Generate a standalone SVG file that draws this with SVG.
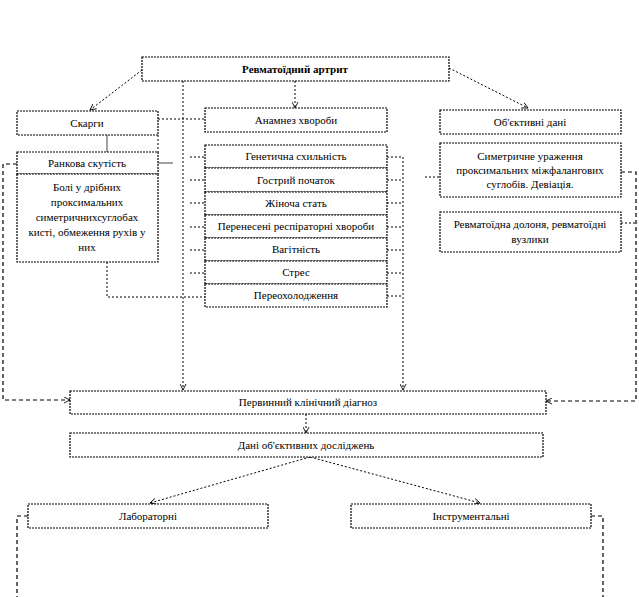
<svg xmlns="http://www.w3.org/2000/svg" width="639" height="597" viewBox="0 0 639 597">
<style>
.box{fill:#fff;stroke:#000;stroke-width:1.2;stroke-dasharray:2 1}
.t{font-size:11px;fill:#000;text-anchor:middle}
.b{font-weight:bold}
.c{fill:none;stroke:#000;stroke-width:1;stroke-dasharray:2 2}
.d{fill:none;stroke:#000;stroke-width:1.2;stroke-dasharray:4 3}
.s{fill:none;stroke:#444;stroke-width:1}
</style>
<defs>
<marker id="ar" viewBox="0 0 8 8" refX="7" refY="4" markerWidth="7" markerHeight="7" orient="auto" markerUnits="userSpaceOnUse">
<path d="M0,0.5 L7,4 L0,7.5" fill="none" stroke="#000" stroke-width="1"/>
</marker>
</defs>
<rect width="639" height="597" fill="#fff"/>
<g id="connectors">
<path class="c" d="M142,70 L90,110" marker-end="url(#ar)"/>
<path class="c" d="M295,81 L295,108" marker-end="url(#ar)"/>
<path class="c" d="M449,68 L528,108" marker-end="url(#ar)"/>
<path class="c" d="M183,81 L183,390" marker-end="url(#ar)"/>
<path class="c" d="M158,119 L205,119"/>
<path class="c" d="M158,135 L158,152"/>
<path class="s" d="M158,120 L107,120 L107,262"/>
<path class="c" d="M107,262 L107,297 L205,297"/>
<path class="s" d="M158,163 L173,163"/>
<path class="d" d="M17,164 L3,164 L3,400 L70,400" marker-end="url(#ar)"/>
<path class="d" d="M621,172 L636,172 L636,401 L546,401" marker-end="url(#ar)"/>
<path class="c" d="M621,223 L636,223"/>
<path class="c" d="M425,177 L440,177"/>
<path class="c" d="M190,157 L205,157 M190,180 L205,180 M190,203 L205,203 M190,227 L205,227 M190,250 L205,250 M190,273 L205,273"/>
<path class="c" d="M387,157 L403,157 M387,180 L403,180 M387,203 L403,203 M387,227 L403,227 M387,250 L403,250 M387,273 L403,273 M387,296 L403,296"/>
<path class="c" d="M403,157 L403,390" marker-end="url(#ar)"/>
<path class="c" d="M306,414 L306,433" marker-end="url(#ar)"/>
<path class="c" d="M310,457 L150,503" marker-end="url(#ar)"/>
<path class="c" d="M310,457 L480,503" marker-end="url(#ar)"/>
<path class="d" d="M28,516 L17,516 L17,597"/>
<path class="d" d="M591,516 L603,516 L603,597"/>
</g>
<g font-family="Liberation Serif, DejaVu Serif, serif">
<g id="n-ra"><rect class="box" x="142" y="57" width="307" height="24"/><text class="t b" x="295" y="73">Ревматоїдний артрит</text></g>
<g id="n-skargy"><rect class="box" x="17" y="111" width="141" height="24"/><text class="t" x="87" y="127">Скарги</text></g>
<g id="n-anamnez"><rect class="box" x="205" y="108" width="182" height="24"/><text class="t" x="296" y="124">Анамнез хвороби</text></g>
<g id="n-obj"><rect class="box" x="440" y="110" width="181" height="24"/><text class="t" x="530" y="126">Об'єктивні дані</text></g>
<g id="n-ranok"><rect class="box" x="17" y="152" width="141" height="22"/><text class="t" x="87" y="167">Ранкова скутість</text></g>
<g id="n-boli"><rect class="box" x="17" y="174" width="141" height="88"/>
<text class="t" x="87" y="191">Болі у дрібних</text>
<text class="t" x="87" y="206">проксимальних</text>
<text class="t" x="87" y="221">симетричнихсуглобах</text>
<text class="t" x="87" y="236">кисті, обмеження рухів у</text>
<text class="t" x="87" y="251">них</text></g>
<g id="n-gen"><rect class="box" x="205" y="145" width="182" height="23"/><text class="t" x="296" y="160">Генетична схильність</text></g>
<g id="n-gostr"><rect class="box" x="205" y="168" width="182" height="24"/><text class="t" x="296" y="184">Гострий початок</text></g>
<g id="n-zhin"><rect class="box" x="205" y="192" width="182" height="23"/><text class="t" x="296" y="207">Жіноча стать</text></g>
<g id="n-resp"><rect class="box" x="205" y="215" width="182" height="23"/><text class="t" x="296" y="230">Перенесені респіраторні хвороби</text></g>
<g id="n-vag"><rect class="box" x="205" y="238" width="182" height="23"/><text class="t" x="296" y="253">Вагітність</text></g>
<g id="n-stres"><rect class="box" x="205" y="261" width="182" height="23"/><text class="t" x="296" y="276">Стрес</text></g>
<g id="n-pereoh"><rect class="box" x="205" y="284" width="182" height="23"/><text class="t" x="296" y="299">Переохолодження</text></g>
<g id="n-sym"><rect class="box" x="440" y="143" width="181" height="54"/>
<text class="t" x="530" y="160">Симетричне ураження</text>
<text class="t" x="530" y="174">проксимальних міжфалангових</text>
<text class="t" x="530" y="188">суглобів. Девіація.</text></g>
<g id="n-dolon"><rect class="box" x="440" y="212" width="181" height="40"/>
<text class="t" x="530" y="228">Ревматоїдна долоня, ревматоїдні</text>
<text class="t" x="530" y="243">вузлики</text></g>
<g id="n-pervyn"><rect class="box" x="70" y="391" width="476" height="23"/><text class="t" x="308" y="406">Первинний клінічний діагноз</text></g>
<g id="n-dani"><rect class="box" x="70" y="433" width="473" height="24"/><text class="t" x="306" y="449">Дані об'єктивних досліджень</text></g>
<g id="n-lab"><rect class="box" x="28" y="504" width="240" height="24"/><text class="t" x="148" y="520">Лабораторні</text></g>
<g id="n-instr"><rect class="box" x="351" y="504" width="240" height="24"/><text class="t" x="471" y="520">Інструментальні</text></g>
</g>
</svg>
